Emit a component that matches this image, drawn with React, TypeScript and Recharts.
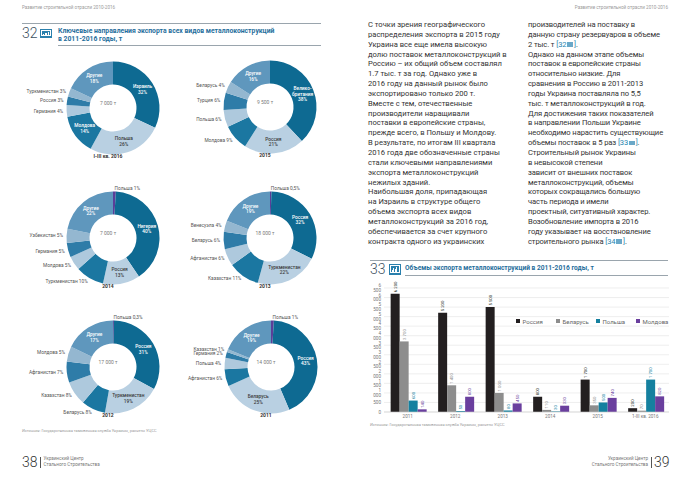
import React from "react";
import {
  PieChart,
  Pie,
  Cell,
  BarChart,
  Bar,
  XAxis,
  YAxis,
  CartesianGrid,
  Legend,
} from "recharts";

const FONT = "Roboto, 'Noto Sans', sans-serif";

// ---------- Donut data (clockwise from 12 o'clock) ----------
const names2016 = ["Израиль", "Польша", "Молдова", "Германия", "Россия", "Туркменистан", "Другие"];
const shares2016 = [32, 26, 14, 4, 3, 3, 18];

const names2015 = ["Велико-\nбритания", "Россия", "Молдова", "Польша", "Турция", "Беларусь", "Другие"];
const shares2015 = [38, 21, 9, 6, 6, 4, 16];

const names2014 = ["Польша", "Нигерия", "Россия", "Туркменистан", "Молдова", "Германия", "Узбекистан", "Другие"];
const shares2014 = [1, 40, 13, 10, 5, 5, 5, 22];

const names2013 = ["Польша", "Россия", "Туркменистан", "Казахстан", "Афганистан", "Беларусь", "Венесуэла", "Другие"];
const shares2013 = [0.5, 32, 22, 11, 6, 6, 4, 19];

const names2012 = ["Польша", "Россия", "Туркменистан", "Беларусь", "Казахстан", "Афганистан", "Молдова", "Другие"];
const shares2012 = [0.3, 31, 19, 8, 8, 7, 5, 17];

const names2011 = ["Польша", "Россия", "Беларусь", "Афганистан", "Польша", "Германия", "Казахстан", "Другие"];
const shares2011 = [1, 43, 25, 6, 4, 2, 1, 19];

const donutTitles = ["I-III кв. 2016", "2015", "2014", "2013", "2012", "2011"];
const donutTotals = ["7 000 т", "9 500 т", "7 000 т", "18 000 т", "17 000 т", "14 000 т"];

// ---------- Bar data ----------
const barYears = ["2011", "2012", "2013", "2014", "2015", "1-III кв. 2016"];
const russia = [6200, 5200, 5500, 800, 1700, 200];
const belarus = [3700, 1400, 1000, 110, 350, 70];
const poland = [600, 50, 80, 30, 500, 1700];
const moldova = [140, 800, 450, 330, 740, 820];
const seriesNames = ["Россия", "Беларусь", "Польша", "Молдова"];
const yTicks = [0, 500, 1000, 1500, 2000, 2500, 3000, 3500, 4000, 4500, 5000, 5500, 6000, 6500];

// ---------- Text ----------
const col1Lines = [
  "С точки зрения географического",
  "распределения экспорта в 2015 году",
  "Украина все еще имела высокую",
  "долю поставок металлоконструкций в",
  "Россию – их общий объем составлял",
  "1.7 тыс. т за год. Однако уже в",
  "2016 году на данный рынок было",
  "экспортировано только 200 т.",
  "Вместе с тем, отечественные",
  "производители наращивали",
  "поставки в европейские страны,",
  "прежде всего, в Польшу и Молдову.",
  "В результате, по итогам III квартала",
  "2016 года две обозначенные страны",
  "стали ключевыми направлениями",
  "экспорта металлоконструкций",
  "нежилых зданий.",
  "Наибольшая доля, припадающая",
  "на Израиль в структуре общего",
  "объема экспорта всех видов",
  "металлоконструкций за 2016 год,",
  "обеспечивается за счет крупного",
  "контракта одного из украинских",
];
const col2Lines = [
  "производителей на поставку в",
  "данную страну резервуаров в объеме",
  "2 тыс. т [[32]].",
  "Однако на данном этапе объемы",
  "поставок в европейские страны",
  "относительно низкие. Для",
  "сравнения в Россию в 2011-2013",
  "годы Украина поставляла по 5,5",
  "тыс. т металлоконструкций в год.",
  "Для достижения таких показателей",
  "в направлении Польши Украине",
  "необходимо нарастить существующие",
  "объемы поставок в 5 раз [[33]].",
  "Строительный рынок Украины",
  "в невысокой степени",
  "зависит от внешних поставок",
  "металлоконструкций, объемы",
  "которых сокращались большую",
  "часть периода и имели",
  "проектный, ситуативный характер.",
  "Возобновление импорта в 2016",
  "году указывает на восстановление",
  "строительного рынка [[34]].",
];

const runHeader = "Развитие строительной отрасли 2010-2016";
const title32a = "Ключевые направления экспорта всех видов металлоконструкций";
const title32b = "в 2011-2016 годы, т";
const title33 = "Объемы экспорта металлоконструкций в 2011-2016 годы, т";
const sourceText = "Источник: Государственная таможенная служба Украины, расчеты УЦСС";
const orgLine1 = "Украинский Центр";
const orgLine2 = "Стального Строительства";

// ---------- Styles ----------
const D1 = "#0e6a92";
const L1 = "#b9d0e2";
const D2 = "#1b77a1";
const L2 = "#aec9dd";
const D3 = "#2e7ca8";
const L3 = "#94b7d0";
const OT = "#5f97bd";
const PU = "#5b3e98";
const tonesA = [D1, L1, D2, L2, D3, L3, OT];
const tonesB = [PU, ...tonesA];
const barColors = ["#231f20", "#8d8d8d", "#15809f", "#6a3f9e"];
const TITLE_BLUE = "#1f6e9c";

const fmtPct = (v: number) => String(v).replace(".", ",") + "%";
const fmtNum = (v: number) => String(v).replace(/\B(?=(\d{3})+(?!\d))/g, " ");

const makeLabel = (colors: string[]) => (p: any) => {
  const RAD = Math.PI / 180;
  const cx = Number(p.cx);
  const cy = Number(p.cy);
  const ir = Number(p.innerRadius);
  const or = Number(p.outerRadius);
  const value = Number(p.value);
  const name = String(p.name ?? (p.payload && p.payload.name) ?? "");
  const idx = Number(p.index);
  const cos = Math.cos(-p.midAngle * RAD);
  const sin = Math.sin(-p.midAngle * RAD);
  const pct = fmtPct(value);
  if (value >= 12) {
    const r = (ir + or) / 2;
    const x = cx + r * cos;
    const y = cy + r * sin;
    const lines = [...name.split("\n"), pct];
    const fill = colors[idx] === L1 ? "#3b3b3b" : "#ffffff";
    const lh = 5.6;
    const y0 = y - ((lines.length - 1) * lh) / 2;
    return (
      <text x={x} y={y0} textAnchor="middle" fontSize={4.8} fontWeight={500} fill={fill} fontFamily={FONT}>
        {lines.map((l, i) => (
          <tspan key={i} x={x} y={y0 + i * lh} dominantBaseline="central">
            {l}
          </tspan>
        ))}
      </text>
    );
  }
  const r = or + 3.5;
  const x = cx + r * cos;
  const y = cy + r * sin;
  return (
    <text
      x={x}
      y={y}
      textAnchor={cos >= 0 ? "start" : "end"}
      dominantBaseline="central"
      fontSize={4.8}
      fill="#555"
      fontFamily={FONT}
    >
      {name} {pct}
    </text>
  );
};

const donuts = [
  { names: names2016, shares: shares2016, colors: tonesA, cx: 108, cy: 103 },
  { names: names2015, shares: shares2015, colors: tonesA, cx: 265, cy: 102 },
  { names: names2014, shares: shares2014, colors: tonesB, cx: 108, cy: 233 },
  { names: names2013, shares: shares2013, colors: tonesB, cx: 265, cy: 233 },
  { names: names2012, shares: shares2012, colors: tonesB, cx: 108, cy: 362 },
  { names: names2011, shares: shares2011, colors: tonesB, cx: 266, cy: 362 },
];

const renderDonut = (d: (typeof donuts)[number], k: number) => {
  const data = d.names.map((n, i) => ({ name: n, value: d.shares[i] }));
  return (
    <Pie
      key={k}
      data={data}
      dataKey="value"
      nameKey="name"
      cx={d.cx}
      cy={d.cy}
      innerRadius={23.5}
      outerRadius={46.5}
      startAngle={90}
      endAngle={-270}
      stroke="none"
      isAnimationActive={false}
      labelLine={false}
      label={makeLabel(d.colors)}
    >
      {data.map((_, i) => (
        <Cell key={i} fill={d.colors[i]} />
      ))}
    </Pie>
  );
};

const barData = barYears.map((y, i) => ({
  year: y,
  russia: russia[i],
  belarus: belarus[i],
  poland: poland[i],
  moldova: moldova[i],
}));

const makeBarLabel = (color: string) => (p: any) => {
  const vb = p.viewBox || {};
  const x = Number(p.x ?? vb.x);
  const y = Number(p.y ?? vb.y);
  const w = Number(p.width ?? vb.width);
  const cxp = x + w / 2;
  const cyp = y - 1.5;
  return (
    <text
      x={cxp}
      y={cyp}
      transform={`rotate(-90, ${cxp}, ${cyp})`}
      textAnchor="start"
      dominantBaseline="central"
      fontSize={4.3}
      fill={color}
      fontFamily={FONT}
    >
      {fmtNum(Number(p.value))}
    </text>
  );
};

const renderLegend = () => (
  <div style={{ display: "flex", fontFamily: FONT, fontSize: 6, color: "#666", lineHeight: "7px" }}>
    {seriesNames.map((n, i) => (
      <div key={n} style={{ width: 40, display: "flex", alignItems: "center" }}>
        <span style={{ display: "inline-block", width: 4, height: 4, background: barColors[i], marginRight: 2.5 }} />
        <span>{n}</span>
      </div>
    ))}
  </div>
);

const Icon = ({ w = 12, h = 9 }: { w?: number; h?: number }) => (
  <div
    style={{
      width: w,
      height: h,
      background: "#2a80ad",
      position: "relative",
      boxSizing: "border-box",
    }}
  >
    <div
      style={{
        position: "absolute",
        left: 1.3,
        top: 1.3,
        right: 1.3,
        bottom: 1.3,
        border: "0.8px solid #fff",
      }}
    />
    {[0.35, 0.6, 0.45, 0.8].map((f, i) => (
      <div
        key={i}
        style={{
          position: "absolute",
          bottom: 2.2,
          left: 3 + i * ((w - 6) / 4),
          width: (w - 6) / 4 - 0.6,
          height: (h - 4.4) * f,
          background: "#fff",
        }}
      />
    ))}
  </div>
);

const InlineRef = ({ n }: { n: string }) => (
  <span style={{ color: "#2a86b0" }}>
    {n}
    <span
      style={{
        display: "inline-block",
        width: 6.5,
        height: 4.5,
        background: "#6aa8c8",
        margin: "0 0.5px",
        verticalAlign: "-0.3px",
      }}
    />
  </span>
);

const renderLine = (line: string) => {
  const m = line.match(/^(.*)\[\[(\d+)\]\](.*)$/);
  if (!m) return line;
  return (
    <>
      {m[1]}
      <span style={{ color: "#2a86b0" }}>[</span>
      <InlineRef n={m[2]} />
      <span style={{ color: "#2a86b0" }}>]</span>
      {m[3]}
    </>
  );
};

const abs = (left: number, top: number, extra: React.CSSProperties = {}): React.CSSProperties => ({
  position: "absolute",
  left,
  top,
  whiteSpace: "nowrap",
  ...extra,
});

export default function App() {
  return (
    <div
      style={{
        position: "absolute",
        left: 0,
        top: 0,
        width: 690,
        height: 477,
        background: "#fff",
        overflow: "hidden",
        fontFamily: FONT,
      }}
    >
      {/* running headers */}
      <div style={abs(22, 4.5, { fontSize: 4.6, color: "#9a9a9a", lineHeight: "6px" })}>{runHeader}</div>
      <div style={abs(560, 4.5, { fontSize: 4.6, color: "#9a9a9a", lineHeight: "6px", width: 108, textAlign: "right" })}>
        {runHeader}
      </div>

      {/* Chart 32 header */}
      <div style={abs(22, 23.3, { width: 299, height: 0, borderTop: "0.8px solid #9aa5ad" })} />
      <div style={abs(22, 25.5, { fontSize: 14, fontWeight: 300, color: "#3d4f5e", lineHeight: "14px" })}>32</div>
      <div style={abs(40, 28.5)}>
        <Icon />
      </div>
      <div style={abs(58, 27, { fontSize: 6.8, fontWeight: 700, color: TITLE_BLUE, lineHeight: "8px" })}>
        {title32a}
        <br />
        {title32b}
      </div>
      <div style={abs(58, 44.5, { width: 263, height: 0, borderTop: "0.8px solid #9aa5ad" })} />

      {/* donuts */}
      <div style={abs(0, 0)}>
        <PieChart width={345} height={440}>
          {donuts.map((d, k) => renderDonut(d, k))}
        </PieChart>
      </div>
      {donuts.map((d, k) => (
        <React.Fragment key={k}>
          <div
            style={abs(d.cx - 30, d.cy - 3.5, {
              width: 60,
              textAlign: "center",
              fontSize: 5,
              color: "#7a7a7a",
              lineHeight: "7px",
            })}
          >
            {donutTotals[k]}
          </div>
          <div
            style={abs(d.cx - 40, d.cy + 49.5, {
              width: 80,
              textAlign: "center",
              fontSize: 5,
              fontWeight: 700,
              color: "#333",
              lineHeight: "7px",
            })}
          >
            {donutTitles[k]}
          </div>
        </React.Fragment>
      ))}
      <div style={abs(22, 427.5, { fontSize: 3.9, color: "#999", lineHeight: "5px" })}>{sourceText}</div>

      {/* left footer */}
      <div style={abs(22, 455, { fontSize: 14, fontWeight: 300, color: "#333", lineHeight: "14px" })}>38</div>
      <div style={abs(40, 456.5, { width: 0, height: 11, borderLeft: "0.8px solid #555" })} />
      <div style={abs(43.5, 456, { fontSize: 4.6, color: "#777", lineHeight: "5.8px" })}>
        {orgLine1}
        <br />
        {orgLine2}
      </div>

      {/* right footer */}
      <div style={abs(560, 456, { width: 88, textAlign: "right", fontSize: 4.6, color: "#777", lineHeight: "5.8px" })}>
        {orgLine1}
        <br />
        {orgLine2}
      </div>
      <div style={abs(651, 456.5, { width: 0, height: 11, borderLeft: "0.8px solid #555" })} />
      <div style={abs(654, 455, { fontSize: 14, fontWeight: 300, color: "#333", lineHeight: "14px" })}>39</div>

      {/* text columns */}
      <div style={abs(368, 20, { fontSize: 7.6, color: "#333", lineHeight: "9.85px" })}>
        {col1Lines.map((l, i) => (
          <div key={i}>{renderLine(l)}</div>
        ))}
      </div>
      <div style={abs(528, 20, { fontSize: 7.6, color: "#333", lineHeight: "9.85px", letterSpacing: "-0.1px" })}>
        {col2Lines.map((l, i) => (
          <div key={i}>{renderLine(l)}</div>
        ))}
      </div>

      {/* Chart 33 header */}
      <div style={abs(370, 259.5, { width: 298, height: 0, borderTop: "0.8px solid #9aa5ad" })} />
      <div style={abs(370, 261.5, { fontSize: 14, fontWeight: 300, color: "#3d4f5e", lineHeight: "14px" })}>33</div>
      <div style={abs(388.5, 263.5)}>
        <Icon w={12.5} h={11} />
      </div>
      <div style={abs(405, 264, { fontSize: 6.6, fontWeight: 700, color: TITLE_BLUE, lineHeight: "8px" })}>{title33}</div>
      <div style={abs(405, 275, { width: 263, height: 0, borderTop: "0.8px solid #9aa5ad" })} />

      {/* bar chart */}
      <div style={abs(355, 280)}>
        <BarChart
          width={320}
          height={142}
          data={barData}
          margin={{ top: 8, right: 6, bottom: 0, left: 0 }}
          barCategoryGap="14%"
          barGap={0}
        >
          <CartesianGrid vertical={false} stroke="#e2e2e2" strokeWidth={0.6} />
          <XAxis
            dataKey="year"
            height={10}
            tickSize={0}
            tickMargin={3}
            axisLine={{ stroke: "#cfcfcf", strokeWidth: 0.6 }}
            tick={{ fontSize: 4.6, fill: "#777", fontFamily: FONT }}
            interval={0}
          />
          <YAxis
            width={29}
            domain={[0, 6500]}
            ticks={yTicks}
            interval={0}
            tickSize={0}
            tickMargin={3}
            axisLine={false}
            tickLine={false}
            tickFormatter={(v: number) => fmtNum(v)}
            tick={{ fontSize: 4.6, fill: "#777", fontFamily: FONT }}
          />
          <Legend
            verticalAlign="middle"
            layout="horizontal"
            align="center"
            content={renderLegend}
            wrapperStyle={{ left: 161, top: 37.5, width: 170 }}
          />
          <Bar dataKey="russia" name={seriesNames[0]} fill={barColors[0]} isAnimationActive={false} label={makeBarLabel(barColors[0])} />
          <Bar dataKey="belarus" name={seriesNames[1]} fill={barColors[1]} isAnimationActive={false} label={makeBarLabel(barColors[1])} />
          <Bar dataKey="poland" name={seriesNames[2]} fill={barColors[2]} isAnimationActive={false} label={makeBarLabel(barColors[2])} />
          <Bar dataKey="moldova" name={seriesNames[3]} fill={barColors[3]} isAnimationActive={false} label={makeBarLabel(barColors[3])} />
        </BarChart>
      </div>
      <div style={abs(370, 421.5, { fontSize: 3.9, color: "#999", lineHeight: "5px" })}>{sourceText}</div>
    </div>
  );
}
